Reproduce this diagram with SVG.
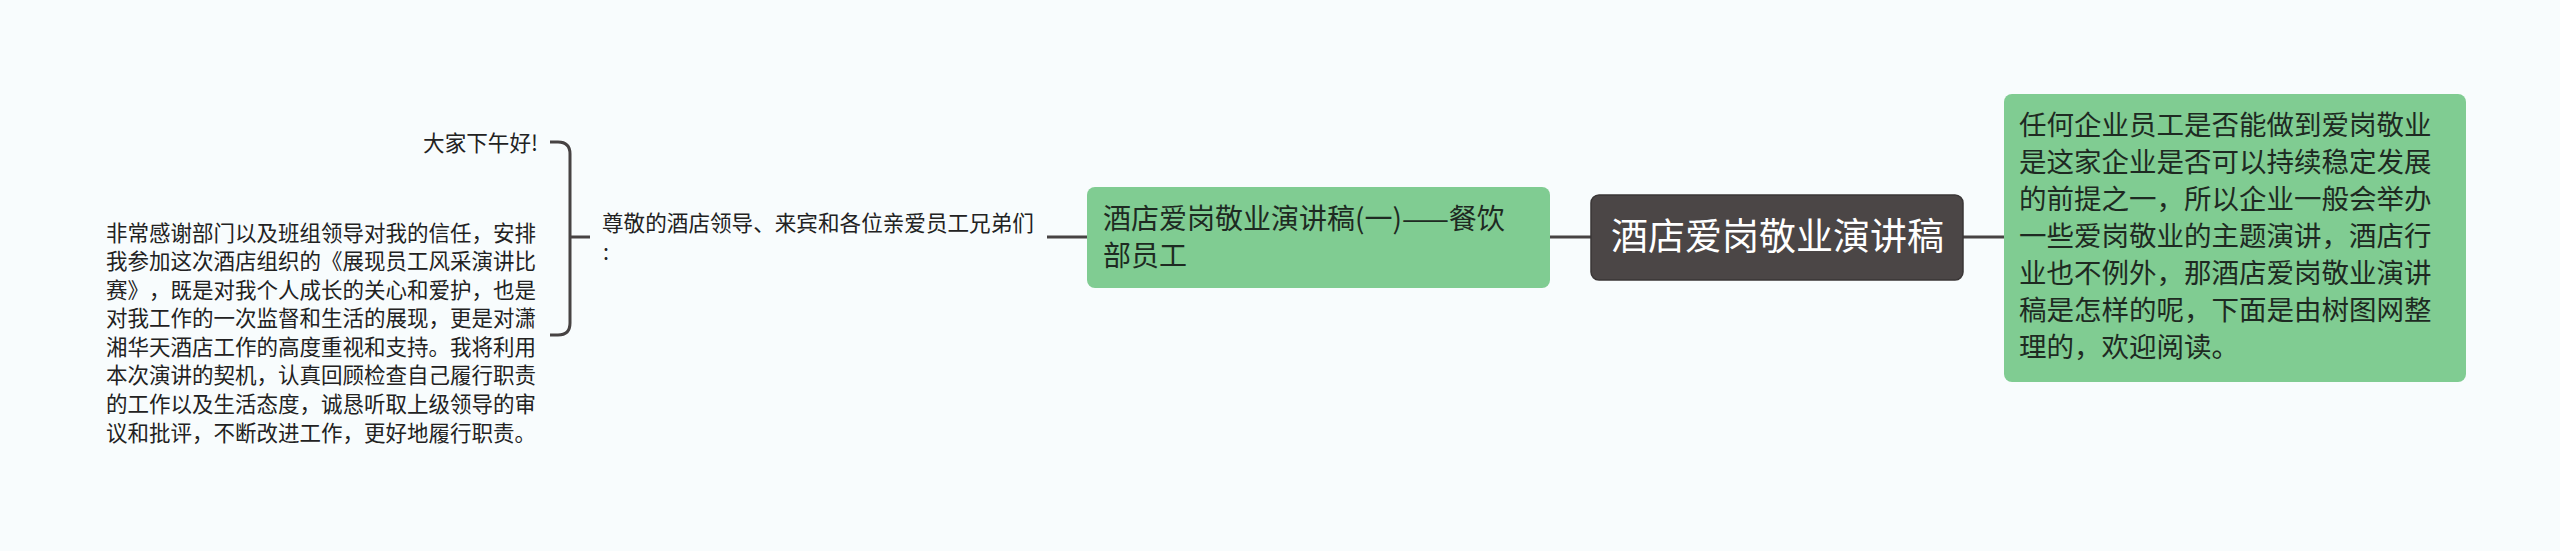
<svg xmlns="http://www.w3.org/2000/svg" width="2560" height="551" viewBox="0 0 2560 551">
<style>
.t{font-family:"Noto Sans CJK SC","Noto Sans",sans-serif;text-spacing-trim:space-all;font-feature-settings:"halt" 0,"chws" 0;}
.green{fill:#80cc92;}
.dark{fill:#1e2a22;}
.plain{fill:#222222;}
.conn{fill:none;stroke:#474343;stroke-width:3;stroke-linecap:butt;}
</style>
<rect x="0" y="0" width="2560" height="551" fill="#f8fcfd"/>
<g id="connectors">
<path class="conn" d="M1963,237 H2004"/>
<path class="conn" d="M1550,237 H1591"/>
<path class="conn" d="M1047,237 H1087"/>
<path class="conn" d="M550,142 H558 Q570,142 570,154 V323 Q570,335 558,335 H550"/>
<path class="conn" d="M570,237 H590"/>
</g>
<g id="root">
<rect x="1591" y="195" width="372" height="85" rx="8" fill="#4b4646" stroke="#3a3636" stroke-width="1.5"/>
<text class="t" x="1611" y="250" font-size="37" fill="#ffffff">酒店爱岗敬业演讲稿</text>
</g>
<g id="intro">
<rect class="green" x="2004" y="94" width="462" height="288" rx="8"/>
<text class="t dark" font-size="27.5">
<tspan x="2019" y="135">任何企业员工是否能做到爱岗敬业</tspan>
<tspan x="2019" y="172">是这家企业是否可以持续稳定发展</tspan>
<tspan x="2019" y="209">的前提之一，所以企业一般会举办</tspan>
<tspan x="2019" y="246">一些爱岗敬业的主题演讲，酒店行</tspan>
<tspan x="2019" y="283">业也不例外，那酒店爱岗敬业演讲</tspan>
<tspan x="2019" y="320">稿是怎样的呢，下面是由树图网整</tspan>
<tspan x="2019" y="357">理的，欢迎阅读。</tspan>
</text>
</g>
<g id="speech1">
<rect class="green" x="1087" y="187" width="463" height="101" rx="8"/>
<text class="t dark" font-size="28">
<tspan x="1103" y="229">酒店爱岗敬业演讲稿(一)——餐饮</tspan>
<tspan x="1103" y="266">部员工</tspan>
</text>
</g>
<g id="greeting">
<text class="t plain" font-size="21.6">
<tspan x="602" y="230.5">尊敬的酒店领导、来宾和各位亲爱员工兄弟们</tspan>
<tspan x="603" y="259.5">:</tspan>
</text>
</g>
<g id="hello">
<text class="t plain" font-size="21.6" x="538" y="150.5" text-anchor="end">大家下午好!</text>
</g>
<g id="thanks">
<text class="t plain" font-size="21.5">
<tspan x="106" y="240.5">非常感谢部门以及班组领导对我的信任，安排</tspan>
<tspan x="106" y="269.1">我参加这次酒店组织的《展现员工风采演讲比</tspan>
<tspan x="106" y="297.6">赛》，既是对我个人成长的关心和爱护，也是</tspan>
<tspan x="106" y="326.2">对我工作的一次监督和生活的展现，更是对潇</tspan>
<tspan x="106" y="354.8">湘华天酒店工作的高度重视和支持。我将利用</tspan>
<tspan x="106" y="383.4">本次演讲的契机，认真回顾检查自己履行职责</tspan>
<tspan x="106" y="411.9">的工作以及生活态度，诚恳听取上级领导的审</tspan>
<tspan x="106" y="440.5">议和批评，不断改进工作，更好地履行职责。</tspan>
</text>
</g>
</svg>
